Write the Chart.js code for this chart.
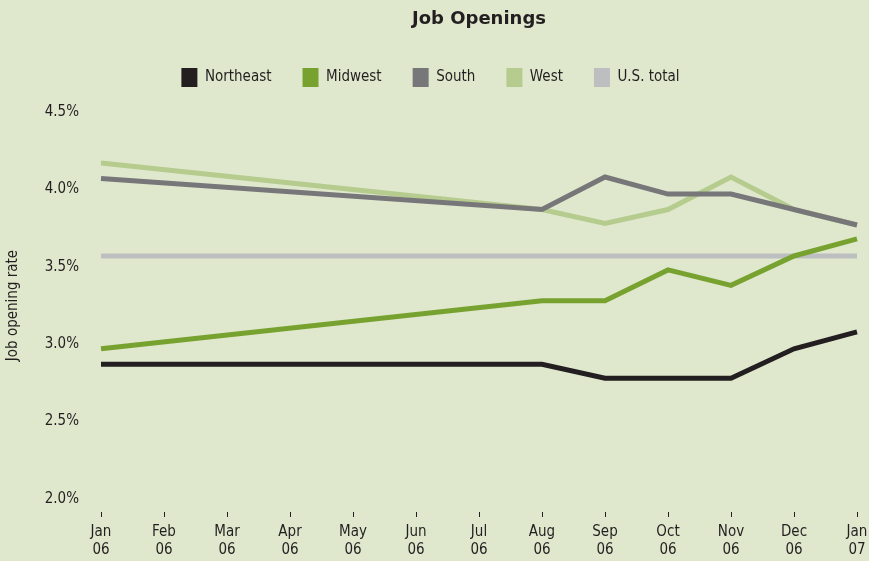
<!DOCTYPE html>
<html>
<head>
<meta charset="utf-8">
<script src="https://cdn.jsdelivr.net/npm/chart.js@4"></script>
<style>
  html, body { margin: 0; padding: 0; background: #dfe8cd; }
  #wrap { width: 869px; height: 561px; position: relative; }
</style>
</head>
<body>
<div id="wrap"><canvas id="jobs"></canvas></div>
<script>
const months = [['Jan','06'],['Feb','06'],['Mar','06'],['Apr','06'],['May','06'],['Jun','06'],
  ['Jul','06'],['Aug','06'],['Sep','06'],['Oct','06'],['Nov','06'],['Dec','06'],['Jan','07']];

// only Jan and Aug-Jan are reported for the regions; gaps get joined
const northeast = [2.87, null, null, null, null, null, null, 2.87, 2.78, 2.78, 2.78, 2.97, 3.08];
const midwest   = [2.97, null, null, null, null, null, null, 3.28, 3.28, 3.48, 3.38, 3.57, 3.68];
const south     = [4.07, null, null, null, null, null, null, 3.87, 4.08, 3.97, 3.97, 3.87, 3.77];
const west      = [4.17, null, null, null, null, null, null, 3.87, 3.78, 3.87, 4.08, 3.87, 3.77];
const usTotal   = [3.57, 3.57, 3.57, 3.57, 3.57, 3.57, 3.57, 3.57, 3.57, 3.57, 3.57, 3.57, 3.57];

const FONT = '"Liberation Sans Narrow", "DejaVu Sans Condensed", Lato, sans-serif';
const INK = '#231f20';

function line(label, data, color) {
  return {
    label: label,
    data: data,
    borderColor: color,
    backgroundColor: color,
    borderWidth: 5,
    pointRadius: 0,
    spanGaps: true,
    tension: 0
  };
}

// title centred over the plot area, not the whole canvas
const plotTitle = {
  id: 'plotTitle',
  afterDraw(chart) {
    const { ctx, chartArea } = chart;
    ctx.save();
    ctx.font = 'bold 18px "DejaVu Sans", sans-serif';
    ctx.fillStyle = INK;
    ctx.textAlign = 'center';
    ctx.textBaseline = 'middle';
    ctx.fillText('Job Openings', (chartArea.left + chartArea.right) / 2, 19);
    ctx.restore();
  }
};

// extra room between the legend row and the plot
const legendGap = {
  id: 'legendGap',
  beforeInit(chart) {
    const fit = chart.legend.fit;
    chart.legend.fit = function () {
      fit.call(this);
      this.height += 15;
    };
  }
};

// short tick marks hanging a little below the plot
const monthTicks = {
  id: 'monthTicks',
  afterDraw(chart) {
    const { ctx, chartArea, scales } = chart;
    const x = scales.x;
    ctx.save();
    ctx.strokeStyle = INK;
    ctx.lineWidth = 1;
    x.ticks.forEach((t, i) => {
      const px = Math.round(x.getPixelForTick(i)) + 0.5;
      ctx.beginPath();
      ctx.moveTo(px, chartArea.bottom + 13);
      ctx.lineTo(px, chartArea.bottom + 18);
      ctx.stroke();
    });
    ctx.restore();
  }
};

new Chart(document.getElementById('jobs'), {
  type: 'line',
  data: {
    labels: months,
    datasets: [
      line('Northeast', northeast, '#231f20'),
      line('Midwest', midwest, '#78a22f'),
      line('South', south, '#77777a'),
      line('West', west, '#b5cc8e'),
      line('U.S. total', usTotal, '#bcbec0')
    ]
  },
  options: {
    responsive: true,
    maintainAspectRatio: false,
    animation: false,
    layout: { padding: { top: 37, right: 12, bottom: 2, left: 4 } },
    plugins: {
      title: { display: false },
      tooltip: { enabled: false },
      legend: {
        labels: {
          boxWidth: 16,
          boxHeight: 19,
          padding: 31,
          color: INK,
          font: { family: FONT, size: 15 },
          // flat swatches, no outline
          generateLabels: chart =>
            Chart.defaults.plugins.legend.labels.generateLabels(chart)
              .map(item => Object.assign(item, { lineWidth: 0 }))
        }
      }
    },
    scales: {
      x: {
        offset: false,
        border: { display: false },
        grid: { display: false, drawTicks: false },
        ticks: {
          color: INK,
          padding: 24,
          maxRotation: 0,
          autoSkip: false,
          font: { family: FONT, size: 15, lineHeight: 1.2 }
        },
        afterFit: s => {
          s.height = 60;
          s.paddingLeft = 0;
          s.paddingRight = 0;
        }
      },
      y: {
        min: 2.0,
        max: 4.5,
        border: { display: false },
        grid: { display: false, drawTicks: false },
        ticks: {
          stepSize: 0.5,
          color: INK,
          padding: 22,
          font: { family: FONT, size: 15 },
          callback: v => v.toFixed(1) + '%'
        },
        title: {
          display: true,
          text: 'Job opening rate',
          color: INK,
          padding: { top: 0, bottom: 23 },
          font: { family: FONT, size: 15 }
        },
        afterFit: s => {
          s.width = 97;
        }
      }
    }
  },
  plugins: [legendGap, plotTitle, monthTicks]
});
</script>
</body>
</html>
